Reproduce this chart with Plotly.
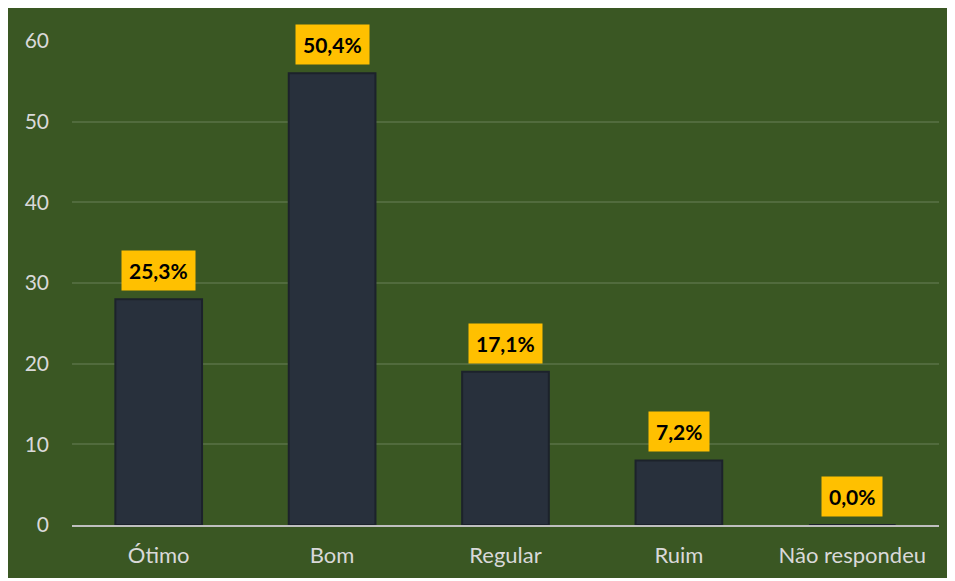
import plotly.graph_objects as go

categories = ["Ótimo", "Bom", "Regular", "Ruim", "Não respondeu"]
counts = [28, 56, 19, 8, 0]
pct_labels = ["25,3%", "50,4%", "17,1%", "7,2%", "0,0%"]
y_ticks = [0, 10, 20, 30, 40, 50, 60]

GREEN = "#3A5723"
BAR = "#28303C"
FONT = "Lato"

fig = go.Figure()
fig.add_trace(go.Bar(
    x=categories, y=counts,
    marker=dict(color=BAR, line=dict(color="#1C222B", width=2)),
    width=0.5,
    hoverinfo="skip",
))

for c, v, t in zip(categories, counts, pct_labels):
    fig.add_annotation(
        x=c, y=v, text=f"<b>{t}</b>", showarrow=False,
        yanchor="bottom", yshift=8,
        bgcolor="#FFC000", borderpad=7,
        font=dict(family=FONT, size=21, color="#000000"),
    )

fig.update_layout(
    width=944, height=570,
    margin=dict(l=64, r=13, t=33, b=53),
    paper_bgcolor=GREEN,
    plot_bgcolor=GREEN,
    showlegend=False,
    font=dict(family=FONT, size=21, color="#D9D9D9"),
    xaxis=dict(
        showgrid=False, showline=True, linecolor="#BFBFBF", linewidth=2,
        ticks="", tickfont=dict(size=22, color="#D9D9D9"),
        ticklabelstandoff=10, automargin=False,
    ),
    yaxis=dict(
        range=[0, 60], tickvals=y_ticks,
        showgrid=True, gridcolor="rgba(255,255,255,0.12)", gridwidth=1.5,
        zeroline=False, showline=False, ticks="",
        tickfont=dict(size=21, color="#D9D9D9"),
        ticklabelstandoff=22, automargin=False,
    ),
)

fig.write_html("out.html")
